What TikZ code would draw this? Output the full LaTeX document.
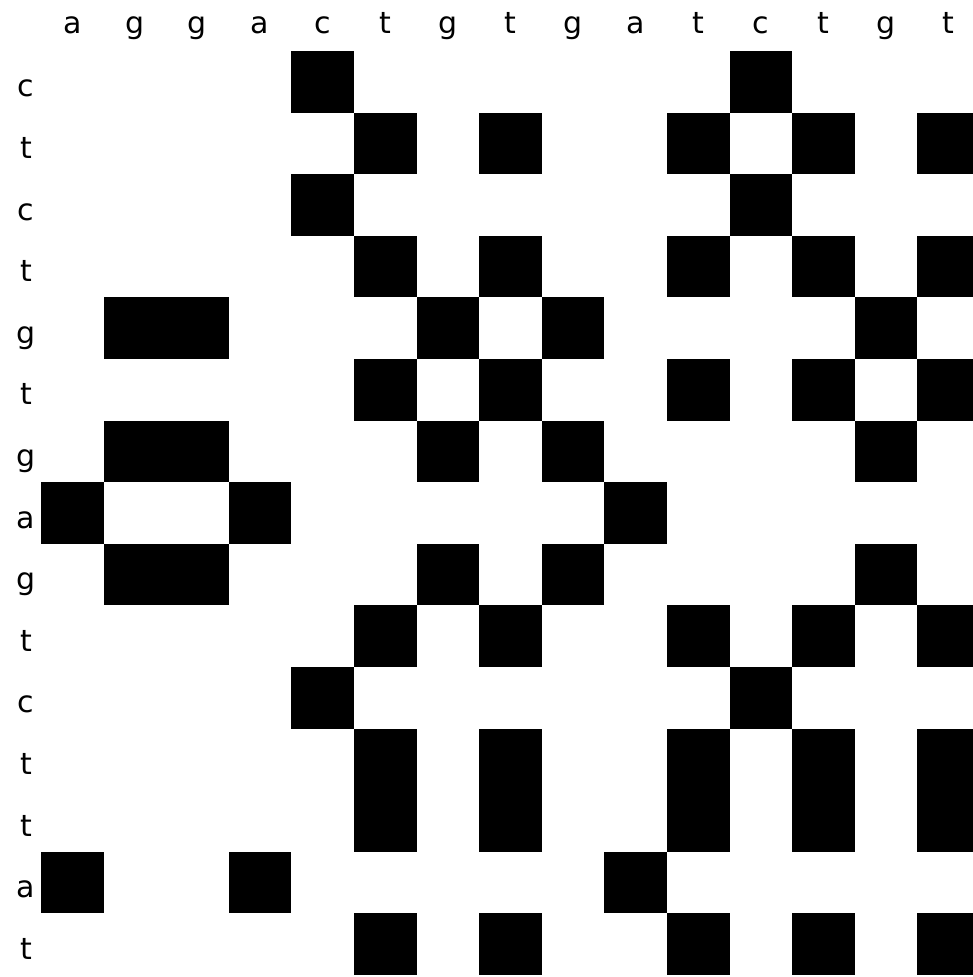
\documentclass[tikz,border=0pt]{standalone}
\usepackage{fontspec}
\setmainfont{DejaVu Sans}
\tikzset{
  seqlab/.style={font=\fontsize{30}{32}\selectfont,inner sep=0pt,anchor=base},
  hit/.style={fill=black}
}
\def\colseq{a,g,g,a,c,t,g,t,g,a,t,c,t,g,t}
\def\rowseq{c,t,c,t,g,t,g,a,g,t,c,t,t,a,t}

\begin{document}
\begin{tikzpicture}[x=1pt,y=-1pt]
\clip (0,0) rectangle (973,977);
% sequence along the top
\foreach \colL [count=\i] in \colseq {
  \node[seqlab] (top\i) at ({41+62.6*(\i-0.5)},33) {\colL};
}
% sequence down the side
\foreach \rowL [count=\j] in \rowseq {
  \node[seqlab] (side\j) at (26,{51+61.6*(\j-0.5)+15}) {\rowL};
}
% a black cell wherever the two letters match
\foreach \colL [count=\i] in \colseq {
  \foreach \rowL [count=\j] in \rowseq {
    \edef\tmpa{\colL}\edef\tmpb{\rowL}
    \ifx\tmpa\tmpb
      \fill[hit] ({41+62.6*(\i-1)},{51+61.6*(\j-1)}) rectangle ({41+62.6*\i},{51+61.6*\j});
    \fi
  }
}
\end{tikzpicture}
\end{document}
